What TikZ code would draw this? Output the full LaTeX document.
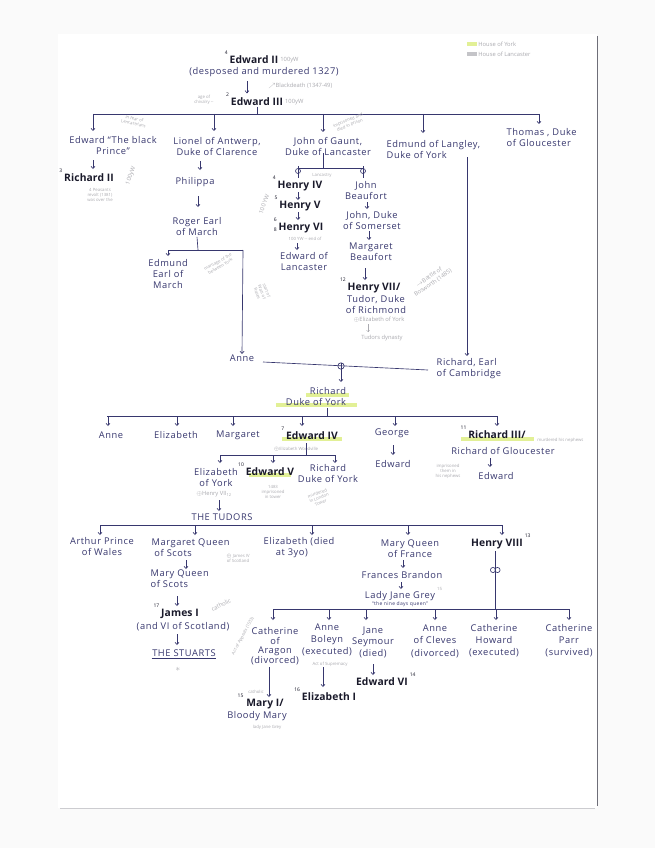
\documentclass[tikz,border=0pt]{standalone}
\usepackage{fontspec}
\setmainfont{Open Sans}[LetterSpace=6]
\newfontfamily\kingfam{Open Sans}[LetterSpace=1]
\newfontfamily\penfam{Open Sans}
\usetikzlibrary{arrows.meta,calc}
\definecolor{inkc}{RGB}{55,55,110}
\definecolor{boldc}{RGB}{25,25,42}
\definecolor{penc}{RGB}{170,170,176}
\definecolor{hlc}{RGB}{226,240,150}
\definecolor{edgec}{RGB}{110,110,120}
\definecolor{bgc}{RGB}{250,250,250}
\newcommand\inkf{\fontsize{9.3}{11}\selectfont}
\newcommand\kingf{\kingfam\fontsize{10.3}{11}\selectfont\bfseries}
\newcommand\penf{\penfam\fontsize{4.3}{5}\selectfont}
\newcommand\penmf{\penfam\fontsize{5.8}{6.8}\selectfont}
\newcommand\numf{\penfam\fontsize{5}{6}\selectfont}
\begin{document}
\begin{tikzpicture}[x=1pt,y=-1pt,
 txt/.style={font=\inkf,text=inkc,align=center,inner sep=0.5pt},
 txtl/.style={txt,align=left},
 king/.style={font=\kingf,text=boldc,inner sep=0.5pt},
 pen/.style={font=\penf,text=penc,inner sep=0.2pt,align=center},
 penm/.style={pen,font=\penmf},
 num/.style={font=\numf,text=boldc,inner sep=0},
 hlmark/.style={draw=hlc,line width=4pt},
 arr/.style={draw=inkc,line width=0.65pt,-{Straight Barb[length=2.2pt,width=4pt]}},
 ln/.style={draw=inkc,line width=0.65pt},
 penarr/.style={draw=penc,line width=0.4pt,-{Straight Barb[length=1.5pt,width=3pt]}},
]
\useasboundingbox (0,0) rectangle (655,848);
\fill[bgc] (0,0) rectangle (655,848);
\fill[white] (58,34) rectangle (597,808);
\draw[edgec,line width=0.9pt] (597,36) -- (597,806);
\draw[penc!60,line width=0.5pt] (60,808) -- (595,808);

% legend
\fill[hlc] (467,42) rectangle (477,46);
\node[penm,anchor=west] (leg1) at (478,44) {House of York};
\fill[penc!70] (467,52) rectangle (477,56);
\node[penm,anchor=west] (leg2) at (478,54) {House of Lancaster};

% Edward II / III
\node[king] (e2) at (254,60) {Edward II};
\node[num,anchor=south east] at ([xshift=-1pt,yshift=1pt]e2.north west) {4};
\node[penm,anchor=west] at ([xshift=1pt]e2.east) {100yW};
\node[txt] (e2d) at (264,72) {(desposed and murdered 1327)};
\node[king] (e3) at (257,102) {Edward III};
\node[num,anchor=south east] at ([xshift=-1pt,yshift=1pt]e3.north west) {2};
\node[penm,anchor=west] at ([xshift=1pt]e3.east) {100yW};
\draw[arr] ([xshift=-17pt,yshift=-4pt]e2d.south) -- ([xshift=-10pt,yshift=4pt]e3.north);
\node[penm,anchor=west] at (268,86) {$\nearrow$Blackdeath (1347-49)};
\node[pen] at (204,100) {age of\\chivalry --};

% first generation bar
\coordinate (b1) at (257,114);
\draw[ln] (e3.south) -- (b1);
\draw[ln] (93,114) -- (540,114);
\node[txt] (ebp) at (113,146) {Edward “The black\\Prince”};
\node[txt] (lio) at (217,146) {Lionel of Antwerp,\\Duke of Clarence};
\node[txt] (jog) at (328,146) {John of Gaunt,\\Duke of Lancaster};
\node[txtl,anchor=west] (edm) at (386,149) {Edmund of Langley,\\Duke of York};
\node[txtl,anchor=west] (tho) at (506,138) {Thomas , Duke\\of Gloucester};
\draw[arr] (93,114) -- (93,131);
\draw[arr] (214,114) -- (214,131);
\draw[arr] (323,114) -- (323,132);
\draw[arr] (423,114) -- (423,133);
\draw[arr] (539,114) -- (539,124);
\node[pen,rotate=-12] at (134,121) {in fear of\\Lancastrians};
\node[pen,rotate=22] at (349,123) {imprisoned and\\died in prison};

% Black Prince
\draw[arr] (93,160) -- (93,169);
\node[king] (r2) at (89,178) {Richard II};
\node[num,anchor=south east] at ([xshift=-1pt,yshift=1pt]r2.north west) {3};
\node[penm,rotate=70] at (131,176) {100yW};
\node[pen] at (100,195) {4 Peasants\\revolt (1381)\\was over the};

% Lionel
\draw[arr] (200,161) -- (200,170);
\node[txt] (phi) at (195,182) {Philippa};
\draw[arr] (198,196) -- (198,207);
\node[txt] (rog) at (197,227) {Roger Earl\\of March};
\coordinate (b2) at (198,250);
\draw[ln] (rog.south) -- (b2);
\draw[ln] (168,250) -- (243,250);
\draw[arr] (168,250) -- (168,256);
\node[txt] (edE) at (168,274) {Edmund\\Earl of\\March};
\node[txt] (anne1) at (242,358) {Anne};
\draw[arr] (243,250) -- (anne1.north);
\node[pen,rotate=30] at (219,264) {marriage of the\\between York};
\node[pen,rotate=-70] at (262,292) {start of\\Wars of\\Roses};

% John of Gaunt
\draw[ln] (323,153) -- (323,168);
\draw[ln] (298,168) -- (363,168);
\draw[ln] (298,166) -- (298,178);
\draw[ln] (298,171) circle (2.5);
\draw[ln] (363,166) -- (363,178);
\draw[ln] (363,171) circle (2.5);
\node[pen] at (322,175) {Lancastry};
\node[king] (h4) at (300,186) {Henry IV};
\node[num,anchor=south east] at ([xshift=-1pt,yshift=1pt]h4.north west) {4};
\draw[arr] (298,192) -- (298,200);
\node[king] (h5) at (300,206) {Henry V};
\node[num,anchor=south east] at ([xshift=-1pt,yshift=1pt]h5.north west) {5};
\draw[arr] (298,212) -- (298,220);
\node[king] (h6) at (301,228) {Henry VI};
\node[num,anchor=south east] at ([xshift=-1pt,yshift=1pt]h6.north west) {6};
\node[num,anchor=north east] at ([xshift=-1pt]h6.west) {8};
\node[pen] at (305,239) {100 YW -- end of};
\draw[arr] (297,243) -- (297,250);
\node[txt] (eoL) at (304,261) {Edward of\\Lancaster};
\node[penm,rotate=70] at (264,204) {100 YW};

\node[txt] (jb) at (366,191) {John\\Beaufort};
\draw[arr] (367,202) -- (367,209);
\node[txt] (jds) at (372,220.5) {John, Duke\\of Somerset};
\draw[arr] (369,231) -- (369,240);
\node[txt] (mb) at (371,251.5) {Margaret\\Beaufort};
\draw[arr] (365,268) -- (365,280);
\node[king] (h7) at (374,288) {Henry VII/};
\node[num,anchor=south east] at ([xshift=-1pt,yshift=1pt]h7.north west) {12};
\node[txt] (tdr) at (376,305) {Tudor, Duke\\of Richmond};
\node[penm] (eoy) at (379,320) {$\oplus$Elizabeth of York};
\draw[penarr] (368,324) -- (368,332);
\node[penm] at (382,338) {Tudors dynasty};
\node[penm,rotate=35] at (431,280) {$\rightarrow$Battle of\\Bosworth (1485)};

% Edmund of Langley
\node[txtl,anchor=west] (rec) at (436,368.5) {Richard, Earl\\of Cambridge};
\draw[arr] (467,157) -- (467,356);

% marriage Anne - Richard
\draw[ln] (263,362) -- (428,370);
\draw[ln] (341,366) circle (3.2);
\draw[ln] (341,362.8) -- (341,369.2);
\draw[hlmark] (306,395) -- (349,395);
\draw[hlmark] (276,405) -- (357,405);
\draw[arr] (341,369) -- (341,382);
\node[txt,align=right] (rdy) at (316,397) {\hspace{2.4em}Richard\\Duke of York};

% children of Richard Duke of York
\coordinate (b3) at (327,416);
\draw[ln] (327,408) -- (b3);
\draw[ln] (107,416) -- (497,416);
\foreach \x in {108,177,233,302,395,497} \draw[arr] (\x,416) -- (\x,426);
\draw[hlmark] (282,439) -- (342,439);
\draw[hlmark] (461,439) -- (534,439);
\node[txt] (anne2) at (111,435) {Anne};
\node[txt] (eliz) at (176,435) {Elizabeth};
\node[txt] (marg) at (238,435) {Margaret};
\node[king] (e4) at (312,436) {Edward IV};
\node[num,anchor=south east] at ([xshift=-1pt,yshift=1pt]e4.north west) {7};
\node[txt] (geo) at (392,433) {George};
\draw[arr] (393,445) -- (393,455);
\node[txt] (edG) at (393,464) {Edward};
\node[king] (r3) at (497,435) {Richard III/};
\node[num,anchor=south east] at ([xshift=-1pt,yshift=1pt]r3.north west) {11};
\node[pen,anchor=west] at (537,440) {murdered his nephews};
\node[txt] (rog2) at (503,451) {Richard of Gloucester};
\draw[arr] (490,458) -- (490,467);
\node[txt] (edR) at (496,476) {Edward};
\node[pen] at (448,471) {imprisoned\\them in\\his nephews};

% Edward IV children
\node[pen] at (296,449) {$\oplus$Elizabeth Woodville};
\draw[ln] (306,443) -- (306,455);
\draw[ln] (220,455) -- (335,455);
\foreach \x in {220,273,335} \draw[arr] (\x,455) -- (\x,463);
\node[txt] (eoy2) at (216,477.5) {Elizabeth\\of York};
\node[penm] at (214,494) {$\oplus$Henry VII\textsubscript{12}};
\draw[arr] (219,500) -- (219,511);
\node[txt] (tud) at (222,517) {THE TUDORS};
\draw[hlmark] (249,475) -- (291,475);
\node[king] (e5) at (270,472) {Edward V};
\node[num,anchor=south east] at ([xshift=-1pt,yshift=1pt]e5.north west) {10};
\node[pen] at (273,492) {1483\\imprisoned\\in tower};
\node[txt] (rdy2) at (328,474) {Richard\\Duke of York};
\node[pen,rotate=20] at (319,498) {murdered\\in London\\Tower};

% Tudors
\coordinate (b4) at (222,525);
\draw[ln] (100,525) -- (502,525);
\foreach \x in {100,195,312,408,502} \draw[arr] (\x,525) -- (\x,535);
\node[txt] (art) at (102,547) {Arthur Prince\\of Wales};
\node[txtl,anchor=west] (mqs) at (151,548) {Margaret Queen\\\hspace{0.3em}of Scots};
\node[pen] at (238,558) {$\oplus$ James IV\\of Scotland};
\node[txtl,anchor=west] (ebd) at (263,548) {Elizabeth (died\\\hspace{1.3em}at 3yo)};
\node[txt] (mqf) at (410,549) {Mary Queen\\of France};
\node[king] (h8) at (497,544) {Henry VIII};
\node[num,anchor=south west] at ([xshift=1pt,yshift=1pt]h8.north east) {13};

% Margaret line
\draw[arr] (186,560) -- (186,569);
\node[txtl,anchor=west] (mqs2) at (150,579) {Mary Queen\\of Scots};
\draw[arr] (177,596) -- (177,606);
\node[king] (j1) at (180,614) {James I};
\node[num,anchor=south east] at ([xshift=-1pt,yshift=1pt]j1.north west) {17};
\node[penm,rotate=25] at (221,605) {catholic};
\node[txt] (avi) at (183,627) {(and VI of Scotland)};
\draw[arr] (177,634) -- (177,645);
\node[txt] (stu) at (184,653) {THE STUARTS};
\draw[ln] ([yshift=-1pt]stu.south west) -- ([yshift=-1pt]stu.south east);
\node[pen,font=\fontsize{9}{9}\selectfont] at (178,669) {$\ast$};

% Mary Queen of France line
\draw[arr] (403,560) -- (403,568);
\node[txt] (fb) at (402,575) {Frances Brandon};
\draw[arr] (401,582) -- (401,589);
\node[txt] (ljg) at (400,596) {Lady Jane Grey};
\node[pen,anchor=south west] at ([xshift=1pt]ljg.north east) {15};
\node[txt,font=\fontsize{5}{6}\selectfont] (ndq) at (400,604.5) {“the nine days queen”};

% Henry VIII wives
\draw[ln] (495,551) -- (495,609);
\draw[ln,fill=white] (493,570) circle (2.6);
\draw[ln] (497.5,570) circle (2.6);
\coordinate (b5) at (495,609);
\draw[ln] (273,609) -- (570,609);
\foreach \x in {273,329,366,435,496,569} \draw[arr] (\x,609) -- (\x,620);
\node[txt,font=\fontsize{9.3}{9.6}\selectfont] (cat) at (275,646) {Catherine\\of\\Aragon\\(divorced)};
\node[txt,font=\fontsize{9.3}{12}\selectfont] (ab) at (327,640) {Anne\\Boleyn\\(executed)};
\node[txt,font=\fontsize{9.3}{11.5}\selectfont] (js) at (373,642) {Jane\\Seymour\\(died)};
\node[txt,font=\fontsize{9.3}{12.5}\selectfont] (aoc) at (435,641) {Anne\\of Cleves\\(divorced)};
\node[txt,font=\fontsize{9.3}{12}\selectfont] (ch) at (494,641) {Catherine\\Howard\\(executed)};
\node[txt,font=\fontsize{9.3}{12}\selectfont] (cp) at (569,641) {Catherine\\Parr\\(survived)};
\node[pen] at (330,664) {Act of Supremacy};
\node[pen,rotate=62] at (243,636) {Act of Appeals (1533)};

\node[king] (m1) at (265,704) {Mary I/};
\node[num,anchor=south east] at ([xshift=-2pt,yshift=1pt]m1.north west) {15};
\node[pen] at (256,692) {catholic};
\draw[arr] (269,667) -- (269,697);
\node[txt] (bm) at (257,716) {Bloody Mary};
\node[pen] at (267,727) {lady Jane Grey};
\draw[arr] (323,667) -- (323,687);
\node[king] (e1) at (329,697) {Elizabeth I};
\node[num,anchor=south east] at ([xshift=-1pt,yshift=1pt]e1.north west) {16};
\draw[arr] (373,664) -- (373,675);
\node[king] (e6) at (382,682) {Edward VI};
\node[num,anchor=south west] at ([xshift=1pt,yshift=1pt]e6.north east) {14};
\end{tikzpicture}
\end{document}
